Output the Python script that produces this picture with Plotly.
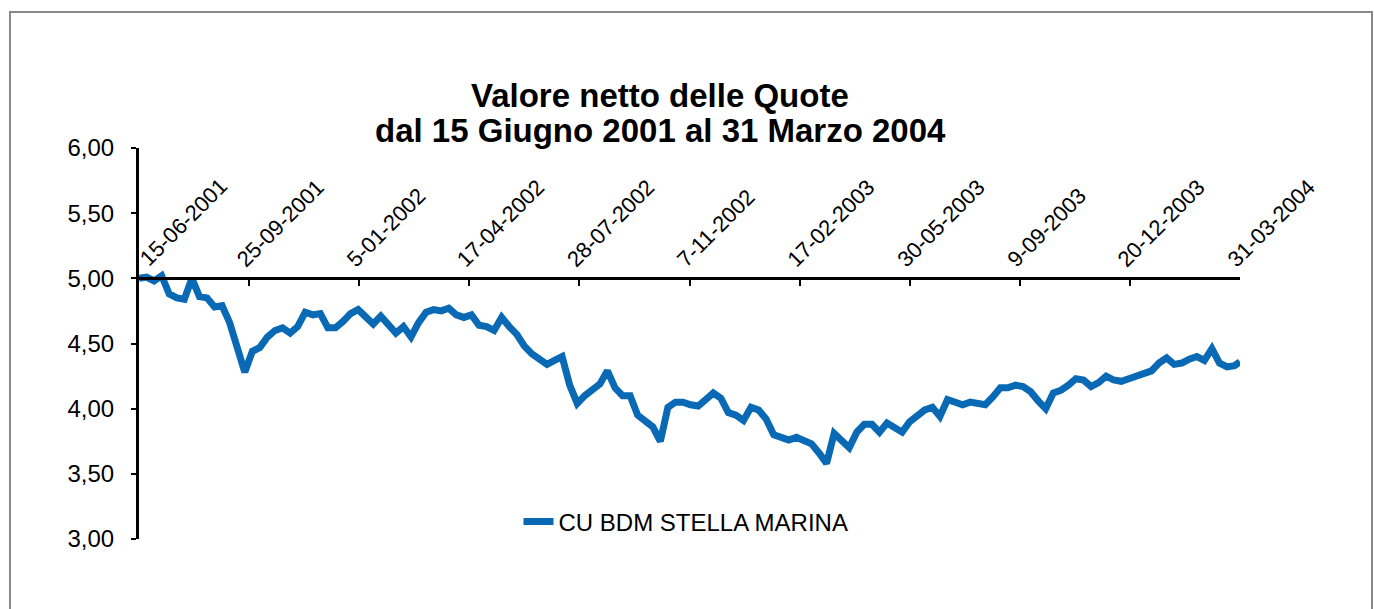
import pandas as pd
import plotly.graph_objects as go

# weekly NAV (Friday) from 15-06-2001, plus quarter end 31-03-2004
dates = list(pd.date_range("2001-06-15", "2004-03-26", freq="W-FRI")) + [pd.Timestamp("2004-03-31")]
nav = [
    5.00, 5.01, 4.98, 5.02, 4.88, 4.85, 4.84, 5.00, 4.86, 4.85,
    4.78, 4.79, 4.66, 4.48, 4.28, 4.44, 4.47, 4.55, 4.60, 4.62,
    4.58, 4.63, 4.74, 4.72, 4.73, 4.62, 4.62, 4.67, 4.73, 4.76,
    4.70, 4.65, 4.71, 4.65, 4.58, 4.63, 4.55, 4.66, 4.74, 4.76,
    4.75, 4.77, 4.72, 4.70, 4.72, 4.64, 4.63, 4.60, 4.70, 4.63,
    4.57, 4.48, 4.42, 4.38, 4.34, 4.37, 4.40, 4.18, 4.04, 4.10,
    4.15, 4.19, 4.29, 4.16, 4.10, 4.10, 3.95, 3.90, 3.86, 3.75,
    4.01, 4.05, 4.05, 4.03, 4.02, 4.07, 4.12, 4.08, 3.97, 3.95,
    3.91, 4.01, 3.99, 3.92, 3.80, 3.78, 3.76, 3.78, 3.76, 3.73,
    3.66, 3.58, 3.81, 3.75, 3.70, 3.82, 3.88, 3.88, 3.82, 3.89,
    3.86, 3.82, 3.90, 3.95, 3.99, 4.01, 3.94, 4.07, 4.05, 4.03,
    4.05, 4.04, 4.03, 4.09, 4.16, 4.16, 4.18, 4.17, 4.13, 4.06,
    4.00, 4.12, 4.14, 4.18, 4.23, 4.22, 4.17, 4.20, 4.25, 4.22,
    4.21, 4.23, 4.25, 4.28, 4.29, 4.35, 4.39, 4.34, 4.35, 4.38,
    4.40, 4.37, 4.46, 4.35, 4.32, 4.33, 4.36,
]

tick_dates = ["2001-06-15", "2001-09-25", "2002-01-05", "2002-04-17", "2002-07-28", "2002-11-07",
              "2003-02-17", "2003-05-30", "2003-09-09", "2003-12-20", "2004-03-31"]
tick_labels = ["15-06-2001", "25-09-2001", "5-01-2002", "17-04-2002", "28-07-2002", "7-11-2002",
               "17-02-2003", "30-05-2003", "9-09-2003", "20-12-2003", "31-03-2004"]
y_ticks = [3.0, 3.5, 4.0, 4.5, 5.0, 5.5, 6.0]

font = "Liberation Sans, Arial, Helvetica, sans-serif"
W, H = 1374, 609
ml, mr, mt, mb = 139, 134, 148, 70
pw, ph = W - ml - mr, H - mt - mb


def px_x(x):
    return (x - ml) / pw


def px_y(y):
    return (mt + ph - y) / ph


fig = go.Figure()
fig.add_trace(go.Scatter(
    x=dates, y=nav, mode="lines", name="CU BDM STELLA MARINA",
    line=dict(color="#0A69B4", width=7),
))

fig.update_layout(
    width=W, height=H,
    margin=dict(l=ml, r=mr, t=mt, b=mb),
    paper_bgcolor="white", plot_bgcolor="white",
    separators=",.",
    font=dict(family=font, size=22, color="black"),
    showlegend=True,
    legend=dict(
        x=px_x(686), y=px_y(522), xanchor="center", yanchor="middle",
        font=dict(size=24), bgcolor="rgba(0,0,0,0)",
    ),
    xaxis=dict(
        type="date", range=["2001-06-15", "2004-03-31"],
        # first label is placed by hand below (Excel nudges it off the y axis)
        tickvals=tick_dates, ticktext=[""] + tick_labels[1:], tickangle=-45,
        tickfont=dict(size=22),
        side="top", anchor="free", position=2 / 3,
        showline=True, linecolor="black", linewidth=3,
        ticks="inside", ticklen=6, tickcolor="black", tickwidth=1.5,
        ticklabelshift=-11, ticklabelstandoff=-3,
        showgrid=False, zeroline=False,
    ),
    yaxis=dict(
        range=[3, 6], tickvals=y_ticks, tickformat=".2f",
        tickfont=dict(size=24), ticklabelstandoff=12,
        showline=True, linecolor="black", linewidth=3,
        ticks="outside", ticklen=5, tickcolor="black", tickwidth=1.5,
        showgrid=False, zeroline=False,
    ),
)

fig.add_annotation(
    text=tick_labels[0], xref="paper", yref="paper",
    x=px_x(183), y=px_y(222), xanchor="center", yanchor="middle",
    textangle=-45, showarrow=False, font=dict(family=font, size=22, color="black"),
)

# title, two tight lines
for txt, y in [("Valore netto delle Quote", 96), ("dal 15 Giugno 2001 al 31 Marzo 2004", 130)]:
    fig.add_annotation(
        text="<b>" + txt + "</b>", xref="paper", yref="paper",
        x=px_x(660), y=px_y(y), xanchor="center", yanchor="middle",
        showarrow=False, font=dict(family=font, size=33, color="black"),
    )

# outer chart frame
fig.add_shape(
    type="rect", xref="paper", yref="paper",
    x0=px_x(10), x1=px_x(1372), y0=px_y(640), y1=px_y(12),
    line=dict(color="#888888", width=2), fillcolor="rgba(0,0,0,0)", layer="below",
)

fig.write_html(
    "out.html",
    config={"displayModeBar": False},
    post_script="document.body.style.margin='0';document.body.style.overflow='hidden';",
)
